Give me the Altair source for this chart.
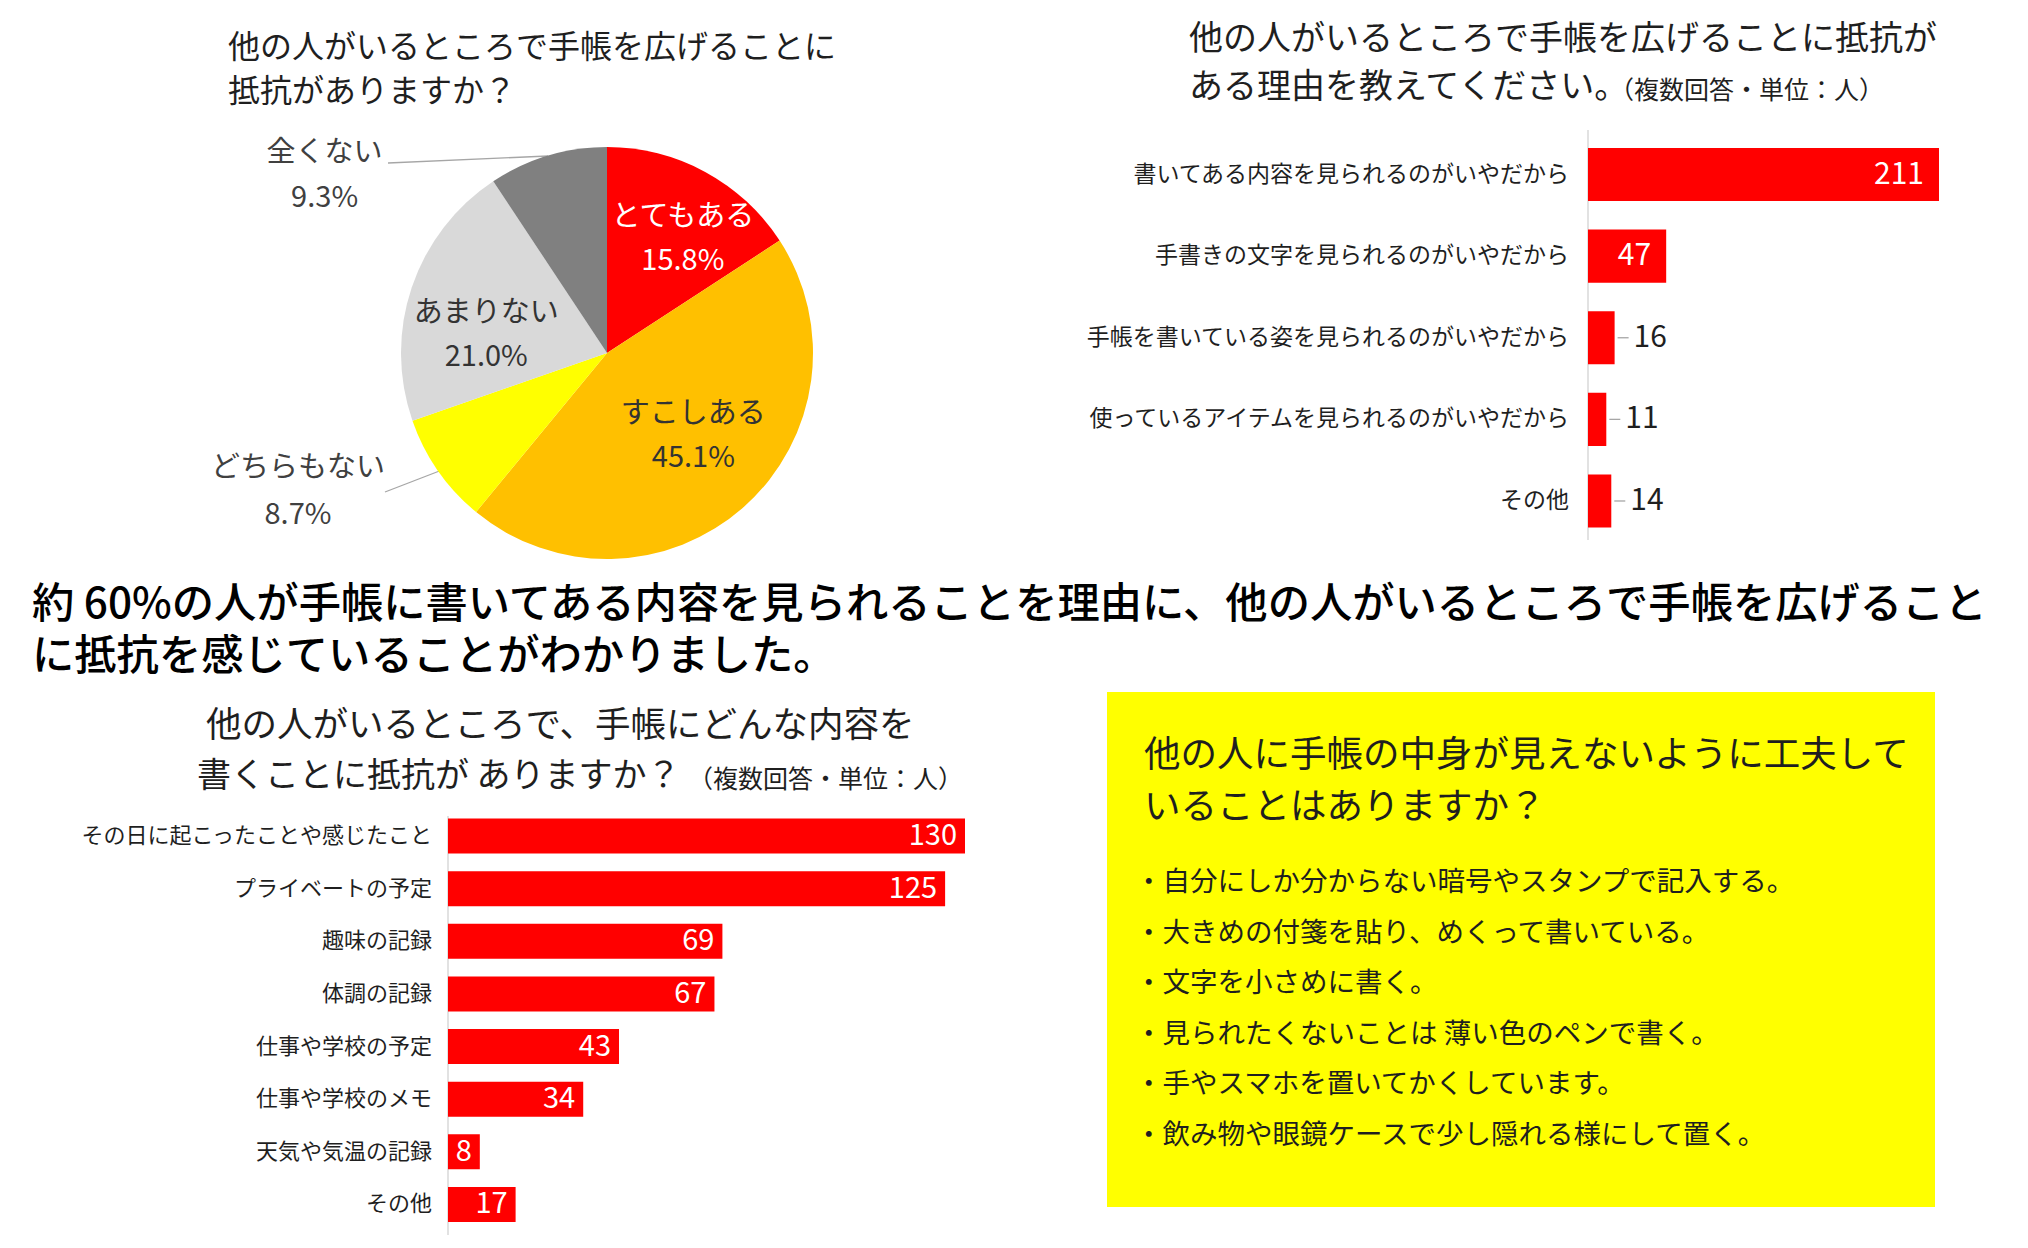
import altair as alt
import pandas as pd
import math

FONT = "Noto Sans CJK JP"
DARK = "#1f1f1f"
RED = "#FF0000"

# ---------------- data ----------------
pie_title = ["他の人がいるところで手帳を広げることに", "抵抗がありますか？"]
pie_labels = ["とてもある", "すこしある", "どちらもない", "あまりない", "全くない"]
pie_values = [15.8, 45.1, 8.7, 21.0, 9.3]
pie_colors = ["#FF0000", "#FFC000", "#FFFF00", "#D9D9D9", "#808080"]

reason_title = ["他の人がいるところで手帳を広げることに抵抗が", "ある理由を教えてください。"]
reason_note = "（複数回答・単位：人）"
reason_labels = ["書いてある内容を見られるのがいやだから", "手書きの文字を見られるのがいやだから",
                 "手帳を書いている姿を見られるのがいやだから", "使っているアイテムを見られるのがいやだから",
                 "その他"]
reason_values = [211, 47, 16, 11, 14]

summary = ["約 60%の人が手帳に書いてある内容を見られることを理由に、他の人がいるところで手帳を広げること",
           "に抵抗を感じていることがわかりました。"]

content_title = ["他の人がいるところで、手帳にどんな内容を", "書くことに抵抗が ありますか？"]
content_note = "（複数回答・単位：人）"
content_labels = ["その日に起こったことや感じたこと", "プライベートの予定", "趣味の記録", "体調の記録",
                  "仕事や学校の予定", "仕事や学校のメモ", "天気や気温の記録", "その他"]
content_values = [130, 125, 69, 67, 43, 34, 8, 17]

box_title = ["他の人に手帳の中身が見えないように工夫して", "いることはありますか？"]
tips = ["・自分にしか分からない暗号やスタンプで記入する。",
        "・大きめの付箋を貼り、めくって書いている。",
        "・文字を小さめに書く。",
        "・見られたくないことは 薄い色のペンで書く。",
        "・手やスマホを置いてかくしています。",
        "・飲み物や眼鏡ケースで少し隠れる様にして置く。"]


def txt(s, x, y, size, color=DARK, align="left", weight="normal", dy=0):
    return alt.Chart(pd.DataFrame({"t": [s]})).mark_text(
        font=FONT, fontSize=size, color=color, align=align, baseline="middle",
        fontWeight=weight, dy=dy
    ).encode(text="t:N", x=alt.value(x), y=alt.value(y))


layers = []

# ---------------- pie ----------------
cx, cy, R = 599, 345, 206
pie_df = pd.DataFrame({"label": pie_labels, "pct": pie_values, "ord": list(range(len(pie_labels)))})
theta = alt.Theta("pct:Q", stack=True)
order = alt.Order("ord:Q", sort="ascending")

leaders = [
    alt.Chart(pd.DataFrame({"a": [0]})).mark_rule(color="#A6A6A6", strokeWidth=1.3).encode(
        x=alt.value(380), y=alt.value(155), x2=alt.value(540), y2=alt.value(148)),
    alt.Chart(pd.DataFrame({"a": [0]})).mark_rule(color="#A6A6A6", strokeWidth=1.3).encode(
        x=alt.value(377), y=alt.value(484), x2=alt.value(434), y2=alt.value(462)),
]

arc = alt.Chart(pie_df).mark_arc(outerRadius=R).encode(
    theta=theta, order=order,
    color=alt.Color("label:N", scale=alt.Scale(domain=pie_labels, range=pie_colors), legend=None),
    x=alt.value(cx), y=alt.value(cy),
)

# label angle = middle of each slice, computed from the data by transforms
lbase = alt.Chart(pie_df).transform_window(
    cum="sum(pct)", sort=[alt.SortField("ord", order="ascending")]
).transform_joinaggregate(
    total="sum(pct)"
).transform_calculate(
    ang=f"(datum.cum - datum.pct / 2) / datum.total * {2 * math.pi}",
    pcttxt="format(datum.pct, '.1f') + '%'",
)

label_specs = {
    "とてもある": dict(radius=136, dx=11, dy=6, color="#FFFFFF", lh=44),
    "すこしある": dict(radius=119, dx=7, dy=-6, color="#333333", lh=44),
    "あまりない": dict(radius=120, dx=-7, dy=20, color="#333333", lh=44),
    "全くない": dict(radius=206, dx=-223, dy=20, color="#404040", lh=45),
    "どちらもない": dict(radius=206, dx=-140, dy=21, color="#404040", lh=47),
}
pie_text_layers = []
for name, sp in label_specs.items():
    for field, shift in (("label", -sp["lh"] / 2), ("pcttxt", sp["lh"] / 2)):
        pie_text_layers.append(
            lbase.transform_filter(alt.datum.label == name).mark_text(
                radius=sp["radius"], dx=sp["dx"], dy=sp["dy"] + shift, font=FONT, fontSize=29,
                color=sp["color"], baseline="middle", align="center"
            ).encode(
                theta=alt.Theta("ang:Q", scale=None, stack=False), text=f"{field}:N",
                x=alt.value(cx), y=alt.value(cy),
            )
        )
pie_layer = alt.layer(*leaders, arc, *pie_text_layers)
layers.append(pie_layer)

# ---------------- bar chart helper ----------------
def bar_chart(labels, values, xmax, xrange, yrange, pad, axis_y, lab_size, lab_dx,
              val_size, inside_min, in_dx):
    df = pd.DataFrame({"cat": labels, "val": values})
    xs = alt.X("val:Q", scale=alt.Scale(domain=[0, xmax], range=xrange, nice=False, zero=True), axis=None)
    x2 = alt.X2("val:Q")
    ys = alt.Y("cat:N", sort=labels,
               scale=alt.Scale(domain=labels, range=yrange, paddingInner=pad, paddingOuter=pad / 2),
               axis=None)
    x0 = alt.XDatum(datum=0, type="quantitative", axis=None)
    one = pd.DataFrame({"a": [0]})
    axis_line = alt.Chart(one).mark_rule(color="#D9D9D9", strokeWidth=1.5).encode(
        x=x0, y=alt.value(axis_y[0]), y2=alt.value(axis_y[1]))
    bars = alt.Chart(df).mark_bar(color=RED).encode(x=xs, y=ys)
    cats = alt.Chart(df).mark_text(align="right", dx=lab_dx, font=FONT, fontSize=lab_size,
                                   color=DARK, baseline="middle").encode(x=x0, y=ys, text="cat:N")
    vin = alt.Chart(df).transform_filter(alt.datum.val >= inside_min).mark_text(
        align="right", dx=in_dx, font=FONT, fontSize=val_size, color="#FFFFFF", baseline="middle"
    ).encode(x=xs, y=ys, text="val:Q")
    parts = [axis_line, bars, cats, vin]
    if any(v < inside_min for v in values):
        lead = alt.Chart(df).transform_filter(alt.datum.val < inside_min).mark_rule(
            color="#A6A6A6", strokeWidth=1.3, xOffset=3, x2Offset=14).encode(x=xs, x2=x2, y=ys)
        vout = alt.Chart(df).transform_filter(alt.datum.val < inside_min).mark_text(
            align="left", dx=19, font=FONT, fontSize=val_size, color=DARK, baseline="middle"
        ).encode(x=xs, y=ys, text="val:Q")
        parts += [lead, vout]
    return alt.layer(*parts)


layers.append(bar_chart(reason_labels, reason_values, 211, [1580, 1931], [125.7, 533.8], 0.35,
                        (122, 532), 23, -19, 30, 30, -15))
layers.append(bar_chart(content_labels, content_values, 130, [440, 957], [801.7, 1222.8], 0.335,
                        (808, 1227), 22, -16, 29, 0, -8))

# ---------------- yellow box ----------------
box = alt.Chart(pd.DataFrame({"a": [0]})).mark_rect(color="#FFFF00").encode(
    x=alt.value(1099), x2=alt.value(1927), y=alt.value(684), y2=alt.value(1199))
layers.append(box)

tips_df = pd.DataFrame({"t": tips, "i": list(range(len(tips)))})
tips_layer = alt.Chart(tips_df).mark_text(
    font=FONT, fontSize=27.5, color=DARK, align="left", baseline="middle"
).encode(
    text="t:N", x=alt.value(1127),
    y=alt.Y("i:O", scale=alt.Scale(type="point", domain=list(range(len(tips))), range=[875, 1128],
                                   padding=0), axis=None),
)
layers.append(tips_layer)

# ---------------- texts ----------------
layers += [
    txt(pie_title[0], 220, 40, 32),
    txt(pie_title[1], 220, 84, 32),
    txt(reason_title[0], 1181, 32, 34),
    txt(reason_title[1], 1181, 80, 34),
    txt(reason_note, 1601, 80, 25, dy=3),
    txt(summary[0], 24, 597, 42.3, color="#000000", weight=500),
    txt(summary[1], 24, 649, 42.3, color="#000000", weight=500),
    txt(content_title[0], 198, 718, 35.5),
    txt(content_title[1], 189, 769, 34),
    txt(content_note, 680, 769, 25, dy=3),
    txt(box_title[0], 1136, 748, 36.5),
    txt(box_title[1], 1136, 800, 36.5),
]

chart = alt.layer(*layers).resolve_scale(
    x="independent", y="independent", theta="independent", color="independent"
).properties(
    width=2012, height=1230, padding=0, autosize="none"
).configure_view(stroke="transparent")

chart.save("out.html", embed_options={"renderer": "svg", "actions": False})
